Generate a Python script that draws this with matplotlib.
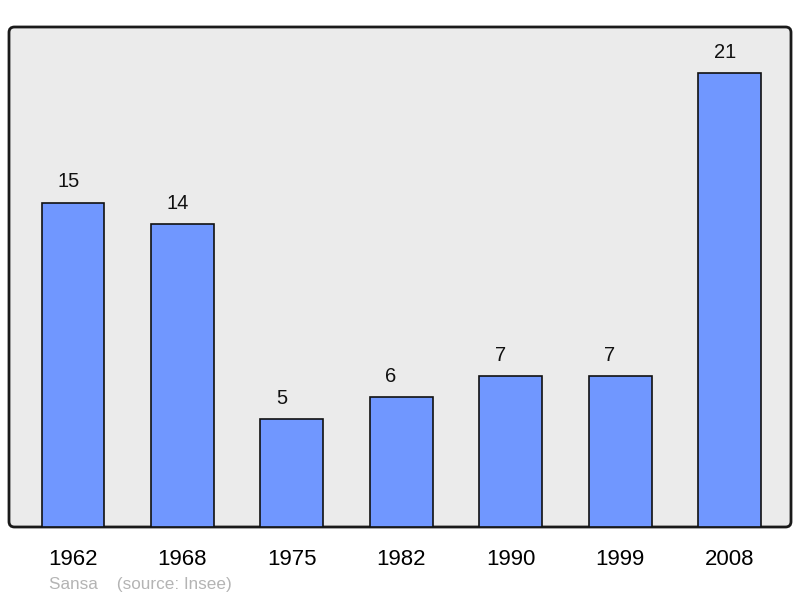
import matplotlib
matplotlib.use("Agg")
import matplotlib.pyplot as plt
from matplotlib.patches import FancyBboxPatch

plt.rcParams["font.family"] = ["Liberation Sans", "DejaVu Sans"]

years = ["1962", "1968", "1975", "1982", "1990", "1999", "2008"]
population = [15, 14, 5, 6, 7, 7, 21]
commune = "Sansa"
source = "(source: Insee)"

fig = plt.figure(figsize=(8, 5.98), dpi=100)
ax = fig.add_axes([9 / 800, 71 / 598, 782 / 800, 500 / 598])
ax.set_facecolor("none")

# fond gris aux coins arrondis
frame = FancyBboxPatch(
    (0, 0), 1, 1, boxstyle="round,pad=0,rounding_size=0.007",
    mutation_aspect=782 / 500, transform=ax.transAxes,
    facecolor="#ebebeb", edgecolor="#1a1a1a", linewidth=2, zorder=0, clip_on=False,
)
ax.add_patch(frame)

x = range(len(years))
bars = ax.bar(x, population, width=0.575, color="#7097ff", edgecolor="#111111",
              linewidth=1.2, zorder=2)
# étiquettes alignées à gauche, légèrement décalées par rapport au bord de la barre
for xi, v in zip(x, population):
    ax.annotate(str(v), (xi, v), xytext=(-11.5, 8), textcoords="offset points",
                ha="left", va="bottom", fontsize=14.5, color="#111111")

ax.set_xlim(-0.585, 6.562)
ax.set_ylim(0, 23.12)
ax.set_yticks([])
ax.set_xticks(list(x))
ax.set_xticklabels(years, fontsize=16)
ax.tick_params(axis="x", length=0, pad=15.5)
for s in ax.spines.values():
    s.set_visible(False)

fig.text(49 / 800, 1 - 584 / 598, f"{commune}    {source}", fontsize=12.3,
         color="#b4b4b4", ha="left", va="center")

fig.savefig("out.png", dpi=100)
